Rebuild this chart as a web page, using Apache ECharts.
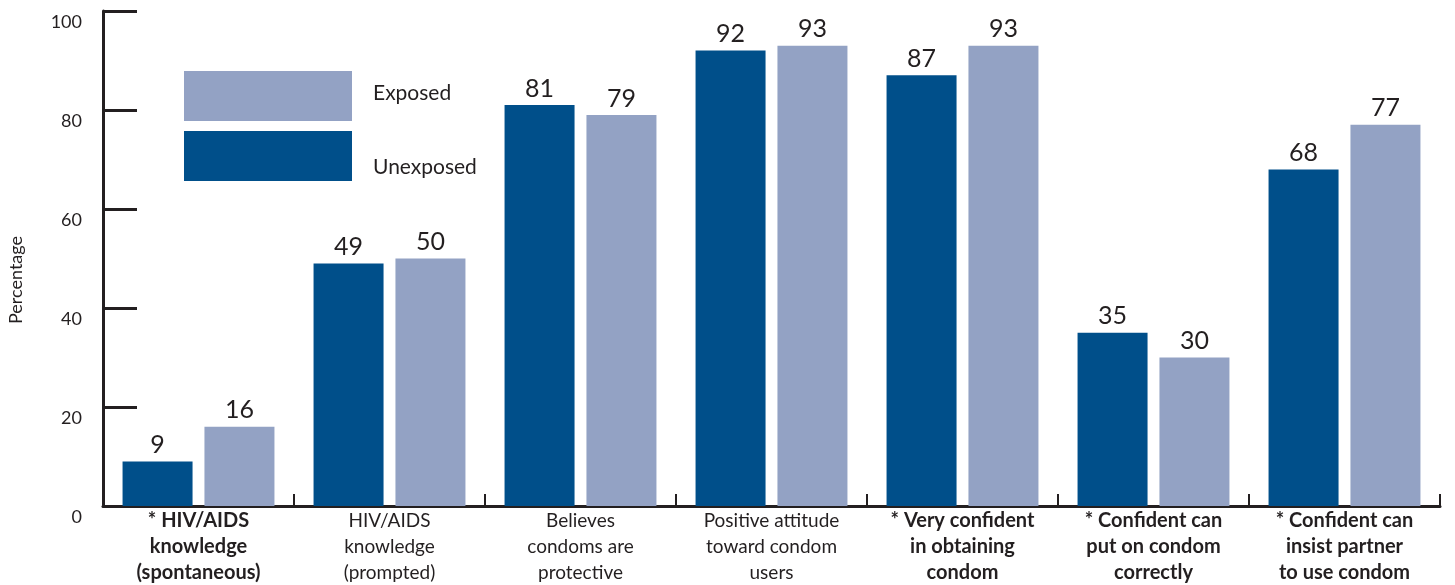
<!DOCTYPE html>
<html>
<head>
<meta charset="utf-8">
<script src="https://cdn.jsdelivr.net/npm/echarts@6/dist/echarts.min.js"></script>
<style>
  html, body { margin: 0; padding: 0; background: #ffffff; }
  #chart { width: 1455px; height: 585px; }
</style>
</head>
<body>
<div id="chart"></div>
<script>
// Survey indicators, split by campaign exposure
const categories = [
  '* HIV/AIDS\nknowledge\n(spontaneous)',
  'HIV/AIDS\nknowledge\n(prompted)',
  'Believes\ncondoms are\nprotective',
  'Positive attitude\ntoward condom\nusers',
  '* Very confident\nin obtaining\ncondom',
  '* Confident can\nput on condom\ncorrectly',
  '* Confident can\ninsist partner\nto use condom'
];
const unexposed = [9, 49, 81, 92, 87, 35, 68];
const exposed = [16, 50, 79, 93, 93, 30, 77];
const yTicks = [0, 20, 40, 60, 80, 100];

const INK = '#231f20';
const DARK = '#004f8a';
const LIGHT = '#93a2c4';
const FONT = 'Lato, "Open Sans", sans-serif';

const chart = echarts.init(document.getElementById('chart'), null, { renderer: 'canvas' });

// starred indicators are set in bold, the rest in regular weight
function categoryLabel(value) {
  const style = value.charAt(0) === '*' ? 'b' : 'n';
  return value.split('\n').map(line => '{' + style + '|' + line + '}').join('\n');
}

const barLabel = {
  show: true,
  position: 'top',
  distance: 4,
  color: INK,
  fontFamily: FONT,
  fontSize: 25
};

chart.setOption({
  animation: false,
  textStyle: { fontFamily: FONT },
  grid: { left: 103, right: 15, top: 11, bottom: 79, containLabel: false },
  legend: {
    data: ['Exposed', 'Unexposed'],
    orient: 'vertical',
    left: 184,
    top: 71,
    padding: 0,
    itemWidth: 168,
    itemHeight: 50,
    itemGap: 10,
    icon: 'rect',
    formatter: name => name === 'Exposed' ? '{e|' + name + '}' : '{u|' + name + '}',
    textStyle: {
      color: INK,
      fontFamily: FONT,
      fontSize: 21,
      padding: [0, 0, 0, 16],
      rich: {
        e: { fontSize: 21, color: INK, fontFamily: FONT, padding: [0, 0, 6, 0] },
        u: { fontSize: 21, color: INK, fontFamily: FONT, padding: [22, 0, 0, 0] }
      }
    }
  },
  xAxis: {
    type: 'category',
    data: categories,
    axisLine: { lineStyle: { color: INK, width: 3 } },
    axisTick: { show: true, inside: true, length: 12, lineStyle: { color: INK, width: 2 } },
    axisLabel: {
      interval: 0,
      margin: 2,
      formatter: categoryLabel,
      rich: {
        b: { fontFamily: FONT, fontSize: 20, fontWeight: 'bold', color: INK, lineHeight: 26 },
        n: { fontFamily: FONT, fontSize: 19, color: INK, lineHeight: 26 }
      }
    }
  },
  yAxis: {
    type: 'value',
    min: yTicks[0],
    max: yTicks[yTicks.length - 1],
    interval: yTicks[1] - yTicks[0],
    splitLine: { show: false },
    axisLine: { show: true, lineStyle: { color: INK, width: 3 } },
    axisTick: { show: true, inside: true, length: 34, lineStyle: { color: INK, width: 3 } },
    axisLabel: {
      color: INK,
      fontFamily: FONT,
      fontSize: 18,
      margin: 21,
      verticalAlign: 'top',
      lineHeight: 22
    }
  },
  graphic: [{
    type: 'text',
    left: 7,
    top: 236,
    rotation: Math.PI / 2,
    style: { text: 'Percentage', fill: INK, font: '18px ' + FONT }
  }],
  series: [
    {
      name: 'Unexposed',
      type: 'bar',
      data: unexposed,
      barWidth: 70,
      barGap: '17%',
      itemStyle: { color: DARK },
      label: barLabel
    },
    {
      name: 'Exposed',
      type: 'bar',
      data: exposed,
      barWidth: 70,
      barGap: '17%',
      itemStyle: { color: LIGHT },
      label: barLabel
    }
  ]
});
</script>
</body>
</html>
